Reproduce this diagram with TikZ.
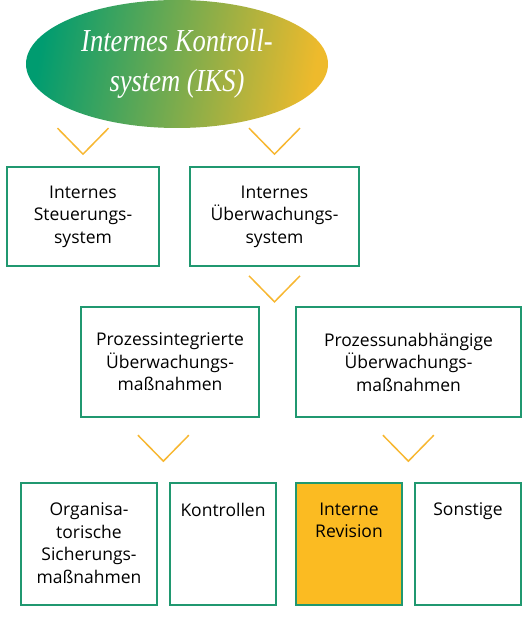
\documentclass[tikz,border=0pt]{standalone}
\usepackage{fontspec}
\setmainfont{Open Sans}
\newfontfamily\ikserif[FakeStretch=0.83]{Liberation Serif}
\usetikzlibrary{shapes.geometric, calc}
\definecolor{ikgreen}{RGB}{32,152,112}
\definecolor{ikleft}{RGB}{0,156,112}
\definecolor{ikright}{RGB}{238,186,44}
\definecolor{ikchev}{RGB}{247,183,49}
\definecolor{ikfill}{RGB}{251,187,34}

\tikzset{
  box/.style={draw=ikgreen, line width=1.7pt, rectangle, inner sep=0pt,
    align=center, font=\fontsize{17.5}{22.5}\selectfont},
  chevline/.style={draw=ikchev, line width=1.5pt},
  chev/.pic={\draw[chevline] (-25.5,-26) -- (0,0) -- (25.5,-26);}
}
\newcommand{\toptext}[2]{\parbox[c][82pt][t]{#1}{\centering\fontsize{17.5}{22.5}\selectfont #2}}

\begin{document}
\begin{tikzpicture}[x=1pt,y=-1pt]
\useasboundingbox (0,0) rectangle (522,617);

%top ellipse
\node[ellipse, inner sep=0pt, minimum width=302pt, minimum height=128pt,
  left color=ikleft, right color=ikright, shading angle=80,
  text=white, align=center,
  font=\ikserif\itshape\fontsize{32}{40}\selectfont] (iks) at (177,64)
  {Internes Kontroll-\\system (IKS)};

%first row
\node[box, minimum width=152pt, minimum height=99pt] (steuer) at (83,216.5)
  {Internes\\Steuerungs-\\system};
\node[box, minimum width=169pt, minimum height=99pt] (ueber) at (274.5,216.5)
  {Internes\\Überwachungs-\\system};

%second row
\node[box, minimum width=178.5pt, minimum height=110pt] (integ) at (170,362)
  {Prozessintegrierte\\Überwachungs-\\maßnahmen};
\node[box, minimum width=225pt, minimum height=110pt] (unabh) at (408.5,362)
  {Prozessunabhängige\\Überwachungs-\\maßnahmen};

%third row
\node[box, minimum width=136pt, minimum height=122pt] (organ) at (89,544)
  {\toptext{130pt}{Organisa-\\torische\\Sicherungs-\\maßnahmen}};
\node[box, minimum width=106.5pt, minimum height=122pt] (kontr) at (223,544)
  {\toptext{100pt}{Kontrollen}};
\node[box, fill=ikfill, minimum width=106pt, minimum height=122pt] (revis) at (349,544)
  {\toptext{100pt}{Interne\\Revision}};
\node[box, minimum width=106.5pt, minimum height=122pt] (sonst) at (468,544)
  {\toptext{100pt}{Sonstige}};

%chevrons
\pic at ($(steuer.north)+(0,-12)$) {chev};
\pic at ($(ueber.north)+(0,-12)$) {chev};
\pic at ($(ueber.south)+(0,35)$) {chev};
\pic at ($(organ.north east)!0.5!(kontr.north west)+(0,-21)$) {chev};
\pic at ($(revis.north east)!0.5!(sonst.north west)+(0,-21)$) {chev};

\end{tikzpicture}
\end{document}
